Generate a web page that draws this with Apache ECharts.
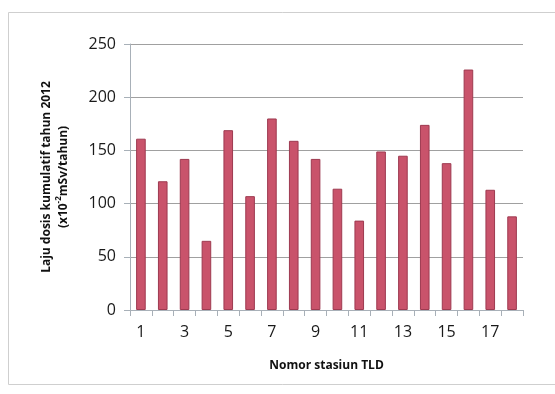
<!DOCTYPE html>
<html>
<head>
<meta charset="utf-8" />
<title>Laju dosis kumulatif</title>
<style>
  html,body{margin:0;padding:0;background:#fff;}
  #chart{width:555px;height:394px;}
</style>
</head>
<body>
<div id="chart"></div>
<script src="https://cdn.jsdelivr.net/npm/echarts@6/dist/echarts.min.js"></script>
<script>
    // nomor stasiun TLD
    var stations = ['1','2','3','4','5','6','7','8','9','10','11','12','13','14','15','16','17','18'];
    // laju dosis kumulatif 2012 (x10^-2 mSv/tahun)
    var doses = [161, 121, 142, 65, 169, 107, 180, 159, 142, 114, 84, 149, 145, 174, 138, 226, 113, 88];
    var yTicks = [0, 50, 100, 150, 200, 250];

    var chart = echarts.init(document.getElementById('chart'));
    chart.setOption({
        animation: false,
        textStyle: {fontFamily: 'Open Sans'},
        graphic: [{
            type: 'rect',
            shape: {x: 8.5, y: 12.5, width: 560, height: 372},
            style: {fill: 'none', stroke: '#cfcfcf', lineWidth: 1},
            silent: true
        }],
        grid: {left: 130, right: 32, top: 44, bottom: 84},
        xAxis: {
            type: 'category',
            data: stations,
            name: 'Nomor stasiun TLD',
            nameLocation: 'middle',
            nameGap: 50,
            nameTextStyle: {fontSize: 12, fontWeight: 'bold', color: '#111'},
            axisLine: {lineStyle: {color: '#a8b0b8'}},
            axisTick: {show: true, interval: 0, length: 6, lineStyle: {color: '#a8b0b8'}},
            axisLabel: {interval: 1, fontSize: 16, color: '#1a1a1a', margin: 14}
        },
        yAxis: {
            type: 'value',
            min: yTicks[0],
            max: yTicks[yTicks.length - 1],
            interval: 50,
            name: '{t|Laju dosis kumulatif tahun 2012}\n{t|(x10}{s|-2}{t|mSv/tahun)}',
            nameLocation: 'middle',
            nameRotate: 90,
            nameGap: 58,
            nameTextStyle: {
                rich: {
                    t: {fontSize: 12, fontWeight: 'bold', color: '#111', lineHeight: 17},
                    s: {fontSize: 8, fontWeight: 'bold', color: '#111', verticalAlign: 'top', lineHeight: 17}
                }
            },
            axisLine: {show: true, lineStyle: {color: '#a8b0b8'}},
            axisTick: {show: true, length: 6, lineStyle: {color: '#a8b0b8'}},
            axisLabel: {fontSize: 16, color: '#1a1a1a', margin: 14},
            splitLine: {lineStyle: {color: '#a0a0a0'}}
        },
        series: [{
            type: 'bar',
            data: doses,
            barWidth: '44%',
            itemStyle: {color: '#c9536b', borderColor: '#9e3a50', borderWidth: 1}
        }]
    });
</script>
</body>
</html>
